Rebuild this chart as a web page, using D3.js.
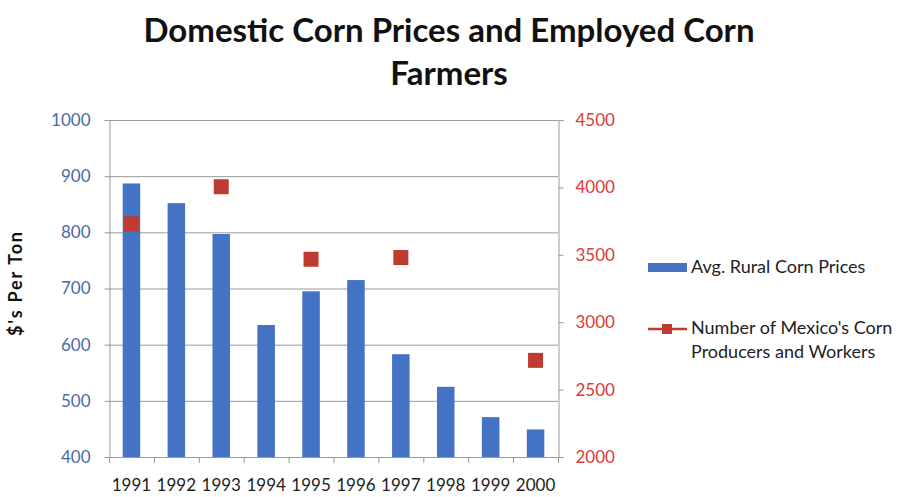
<!DOCTYPE html>
<html>
<head>
<meta charset="utf-8">
<script src="https://cdn.jsdelivr.net/npm/d3@7"></script>
<style>
  body { margin: 0; background: #fff; }
  svg { font-family: Lato, "Open Sans", sans-serif; }
</style>
</head>
<body>
<svg id="svg" width="899" height="497"></svg>
<script>
const years = ['1991', '1992', '1993', '1994', '1995', '1996', '1997', '1998', '1999', '2000'];
const cornPrices = [887, 852, 797, 635, 695, 715, 583, 525, 471, 449];
const cornWorkers = [3730, null, 4005, null, 3467, null, 3480, null, null, 2717];
const leftTicks = [400, 500, 600, 700, 800, 900, 1000];
const rightTicks = [2000, 2500, 3000, 3500, 4000, 4500];

const blue = '#4472c4';
const red = '#be3b31';

const plot = { left: 109, right: 558, top: 120, bottom: 457 };
const svg = d3.select('#svg');

const xScale = d3.scaleBand()
  .domain(years)
  .range([plot.left, plot.right])
  .paddingInner(0.61)
  .paddingOuter(0.305);

const yLeft = d3.scaleLinear().domain([400, 1000]).range([plot.bottom, plot.top]);
const yRight = d3.scaleLinear().domain([2000, 4500]).range([plot.bottom, plot.top]);

// gridlines
svg.append('g')
  .selectAll('line')
  .data(leftTicks)
  .join('line')
  .attr('x1', plot.left)
  .attr('x2', plot.right)
  .attr('y1', d => yLeft(d) + 0.5)
  .attr('y2', d => yLeft(d) + 0.5)
  .attr('stroke', '#9a9a9a')
  .attr('stroke-width', 1);

// left axis
const leftAxisG = svg.append('g')
  .attr('transform', `translate(${plot.left + 0.5},0)`)
  .call(d3.axisLeft(yLeft).tickValues(leftTicks).tickFormat(d3.format('d')).tickSize(5).tickPadding(14));
leftAxisG.select('path.domain').attr('stroke', '#9a9a9a');
leftAxisG.selectAll('line').attr('stroke', '#9a9a9a');
leftAxisG.selectAll('text')
  .attr('fill', '#4a6aa8')
  .style('font-size', '17px')
  .style('font-family', 'Lato, sans-serif');

// right axis
const rightAxisG = svg.append('g')
  .attr('transform', `translate(${plot.right + 0.5},0)`)
  .call(d3.axisRight(yRight).tickValues(rightTicks).tickFormat(d3.format('d')).tickSize(5).tickPadding(12));
rightAxisG.select('path.domain').attr('stroke', '#9a9a9a');
rightAxisG.selectAll('line').attr('stroke', '#9a9a9a');
rightAxisG.selectAll('text')
  .attr('fill', '#dd3a36')
  .style('font-size', '17px')
  .style('font-family', 'Lato, sans-serif');

// bars
svg.append('g')
  .selectAll('rect')
  .data(years.map((y, i) => ({ year: y, value: cornPrices[i] })))
  .join('rect')
  .attr('x', d => xScale(d.year))
  .attr('y', d => yLeft(d.value))
  .attr('width', xScale.bandwidth())
  .attr('height', d => yLeft(400) - yLeft(d.value))
  .attr('fill', blue);

// bottom axis
const step = xScale.step();
const bottomG = svg.append('g');
bottomG.append('line')
  .attr('x1', plot.left).attr('x2', plot.right + 1)
  .attr('y1', plot.bottom + 0.5).attr('y2', plot.bottom + 0.5)
  .attr('stroke', '#9a9a9a');
bottomG.selectAll('line.tick')
  .data(d3.range(years.length + 1))
  .join('line')
  .attr('class', 'tick')
  .attr('x1', i => plot.left + i * step + 0.5)
  .attr('x2', i => plot.left + i * step + 0.5)
  .attr('y1', plot.bottom)
  .attr('y2', plot.bottom + 6)
  .attr('stroke', '#9a9a9a');
bottomG.selectAll('text')
  .data(years)
  .join('text')
  .attr('x', d => xScale(d) + xScale.bandwidth() / 2)
  .attr('y', 491)
  .attr('text-anchor', 'middle')
  .attr('fill', '#222')
  .style('font-size', '17px')
  .text(d => d);

// worker markers (series has gaps, so no connecting line shows)
const ms = 15;
svg.append('g')
  .selectAll('rect')
  .data(years.map((y, i) => ({ year: y, value: cornWorkers[i] })).filter(d => d.value != null))
  .join('rect')
  .attr('x', d => xScale(d.year) + xScale.bandwidth() / 2 - ms / 2)
  .attr('y', d => yRight(d.value) - ms / 2)
  .attr('width', ms)
  .attr('height', ms)
  .attr('fill', red);

// title
svg.append('text')
  .attr('x', 449).attr('y', 42)
  .attr('text-anchor', 'middle')
  .style('font-size', '33px').style('font-weight', 700)
  .attr('fill', '#111')
  .text('Domestic Corn Prices and Employed Corn');
svg.append('text')
  .attr('x', 449).attr('y', 85)
  .attr('text-anchor', 'middle')
  .style('font-size', '33px').style('font-weight', 700)
  .attr('fill', '#111')
  .text('Farmers');

// y axis title
svg.append('text')
  .attr('transform', 'translate(22,284) rotate(-90)')
  .attr('text-anchor', 'middle')
  .attr('textLength', 104)
  .style('font-size', '18px').style('font-weight', 700)
  .attr('fill', '#111')
  .text("$'s Per Ton");

// legend
const legend = svg.append('g');
legend.append('rect')
  .attr('x', 648).attr('y', 263)
  .attr('width', 39).attr('height', 9)
  .attr('fill', blue);
legend.append('text')
  .attr('x', 691).attr('y', 273)
  .style('font-size', '18px').attr('fill', '#222')
  .text('Avg. Rural Corn Prices');
legend.append('line')
  .attr('x1', 648).attr('x2', 687)
  .attr('y1', 329).attr('y2', 329)
  .attr('stroke', red).attr('stroke-width', 2.5);
legend.append('rect')
  .attr('x', 662).attr('y', 324)
  .attr('width', 10).attr('height', 10)
  .attr('fill', red);
legend.append('text')
  .attr('x', 691).attr('y', 334)
  .style('font-size', '18px').attr('fill', '#222')
  .text("Number of Mexico's Corn");
legend.append('text')
  .attr('x', 691).attr('y', 358)
  .style('font-size', '18px').attr('fill', '#222')
  .text('Producers and Workers');
</script>
</body>
</html>
